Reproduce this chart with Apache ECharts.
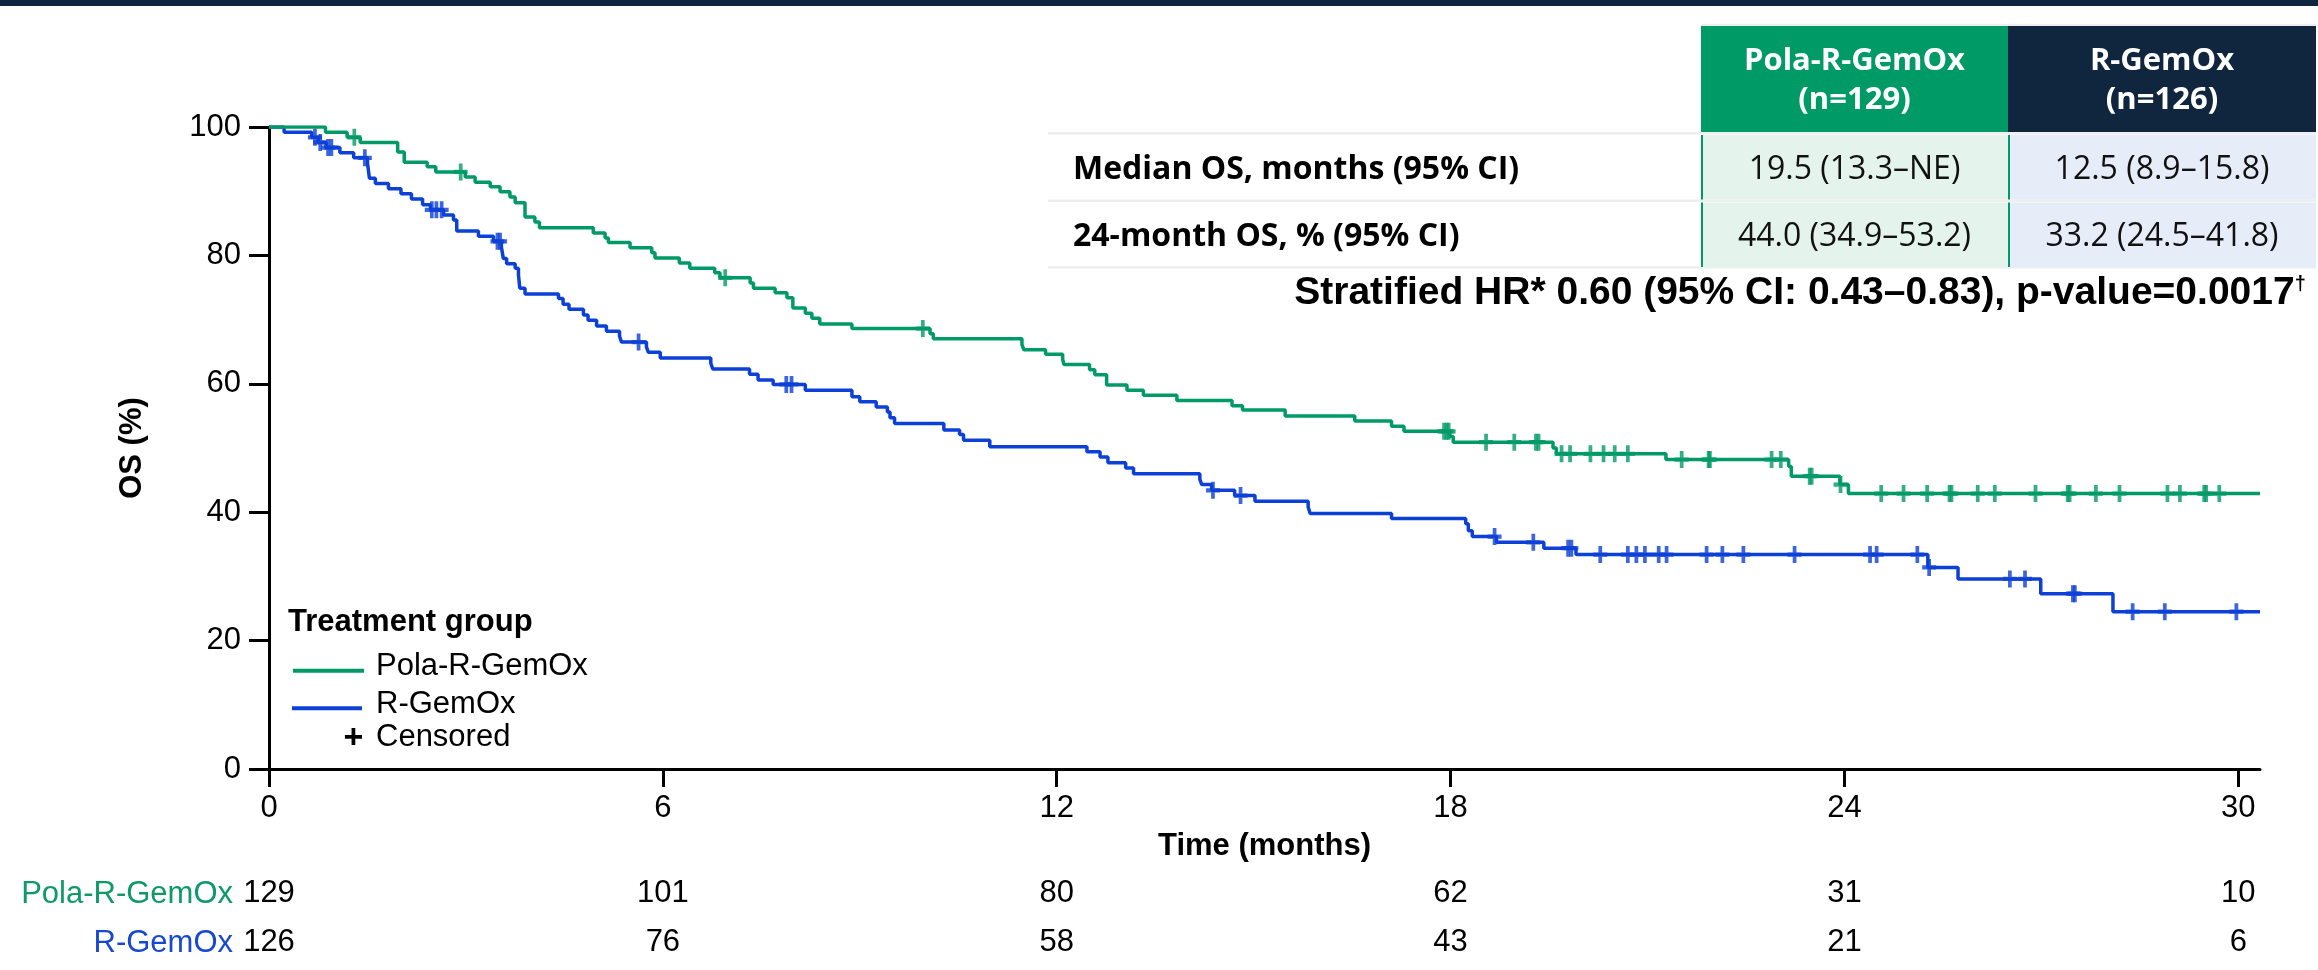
<!DOCTYPE html>
<html>
<head>
<meta charset="utf-8">
<script src="https://cdn.jsdelivr.net/npm/echarts@6.0.0/dist/echarts.min.js"></script>
<style>
  html, body { margin: 0; padding: 0; background: #fff; }
  #chart { width: 2318px; height: 970px; }
</style>
</head>
<body>
<div id="chart"></div>
<script>
// axis ticks and numbers at risk
const xTicks = [0, 6, 12, 18, 24, 30];
const atRiskPola = [129, 101, 80, 62, 31, 10];
const atRiskRGemOx = [126, 76, 58, 43, 21, 6];

// Pola-R-GemOx KM steps (time in months, OS %)
const polaTimes = [0, 0.86, 1.19, 1.39, 1.96, 2.06, 2.41, 2.54, 2.99, 3.14, 3.37, 3.52, 3.67, 3.75, 3.90, 4.05, 4.12,
  4.94, 5.12, 5.17, 5.50, 5.83, 5.88, 6.25, 6.41, 6.79, 6.87, 7.33, 7.38, 7.71, 7.89, 7.98, 8.17, 8.27, 8.39, 8.88,
  10.07, 10.12, 11.47, 11.50, 11.83, 12.09, 12.11, 12.50, 12.58, 12.76, 13.07, 13.32, 13.83, 14.67, 14.83, 15.48,
  16.54, 17.10, 17.29, 17.99, 18.04, 19.56, 19.61, 21.28, 23.15, 23.19, 23.93, 24.06, 30.33];
const polaSurv = [100, 99.2, 98.4, 97.6, 96.1, 94.5, 93.8, 93.0, 92.2, 91.4, 90.7, 89.9, 89.1, 88.2, 86.0, 85.2, 84.3,
  83.5, 82.7, 82.0, 81.2, 80.4, 79.6, 78.8, 78.0, 77.3, 76.5, 75.7, 74.9, 74.2, 73.4, 71.8, 71.0, 70.2, 69.3, 68.6,
  67.8, 67.0, 66.1, 65.3, 64.6, 63.8, 63.0, 62.2, 61.4, 59.8, 59.0, 58.2, 57.4, 56.6, 55.9, 55.0,
  54.2, 53.4, 52.6, 51.8, 50.9, 50.0, 49.1, 48.2, 47.1, 45.6, 44.3, 42.9, 42.9];
const polaCensored = [1.30, 2.92, 6.95, 9.96, 17.90, 17.94, 17.97, 18.54, 18.97, 19.30, 19.34, 19.69, 19.82, 20.13,
  20.33, 20.50, 20.70, 21.52, 21.93, 21.95, 22.89, 23.03, 23.47, 23.50, 23.94, 24.56, 24.90, 25.26, 25.60, 25.63,
  26.03, 26.29, 26.91, 27.40, 27.43, 27.83, 28.19, 28.92, 29.11, 29.48, 29.51, 29.71];

// R-GemOx KM steps
const rgoTimes = [0, 0.23, 0.65, 0.75, 0.87, 1.08, 1.29, 1.50, 1.53, 1.62, 1.82, 2.01, 2.17, 2.34, 2.46, 2.66, 2.81,
  2.86, 3.19, 3.42, 3.54, 3.57, 3.62, 3.75, 3.80, 3.82, 3.90, 4.41, 4.48, 4.57, 4.79, 4.86, 4.99, 5.14, 5.34, 5.37,
  5.75, 5.78, 5.96, 6.73, 6.76, 7.32, 7.45, 7.68, 8.17, 8.88, 9.00, 9.25, 9.42, 9.46, 9.53, 10.28, 10.52, 10.58,
  10.98, 12.46, 12.66, 12.78, 13.05, 13.17, 14.18, 14.21, 14.36, 14.71, 15.02, 15.83, 15.86, 17.10, 18.23, 18.27,
  18.33, 18.70, 19.42, 19.91, 25.27, 25.73, 26.99, 28.09, 30.33];
const rgoSurv = [100, 99.2, 98.4, 97.6, 96.8, 96.0, 95.2, 94.4, 92.0, 91.2, 90.4, 89.6, 88.8, 87.9, 87.1, 86.3, 85.5,
  83.8, 83.0, 82.2, 81.3, 79.5, 78.7, 78.0, 77.0, 74.9, 74.0, 73.3, 72.4, 71.6, 70.7, 69.9, 69.0, 68.2, 67.4, 66.5,
  65.7, 64.9, 64.0, 63.2, 62.3, 61.5, 60.6, 59.9, 59.0, 58.0, 57.2, 56.4, 55.6, 54.7, 53.8, 52.8, 52.1, 51.2,
  50.2, 49.4, 48.6, 47.7, 46.9, 46.0, 45.1, 44.3, 43.4, 42.6, 41.7, 40.8, 39.8, 39.0, 38.2, 37.1,
  36.2, 35.3, 34.4, 33.4, 31.4, 29.6, 27.3, 24.5, 24.5];
const rgoCensored = [0.70, 0.78, 0.90, 0.95, 1.46, 2.48, 2.55, 2.63, 3.48, 3.52, 5.63, 7.88, 7.96, 14.38, 14.80,
  18.67, 19.26, 19.79, 19.84, 20.28, 20.70, 20.83, 20.96, 21.17, 21.29, 21.90, 22.14, 22.46, 23.24, 24.39, 24.49,
  25.11, 25.29, 26.52, 26.75, 27.48, 27.51, 28.39, 28.88, 29.97];

// summary table
const tableGroups = ['Pola-R-GemOx', 'R-GemOx'];
const tableN = ['(n=129)', '(n=126)'];
const tableRows = ['Median OS, months (95% CI)', '24-month OS, % (95% CI)'];
const tableCells = [
  ['19.5 (13.3\u2013NE)', '12.5 (8.9\u201315.8)'],
  ['44.0 (34.9\u201353.2)', '33.2 (24.5\u201341.8)']
];
const hrText = 'Stratified HR* 0.60 (95% CI: 0.43\u20130.83), p-value=0.0017';

const GREEN = '#009a66';
const BLUE = '#0d40d6';
const NAVY = '#10263f';
const chartFont = '"Liberation Sans", Arial, sans-serif';
const tableFont = '"Open Sans", "Noto Sans", sans-serif';
const censorSymbol = 'path://M5.5,0H9.5V6H15V10H9.5V16H5.5V10H0V6H5.5Z';

function levelAt(times, surv, t) {
  let s = surv[0];
  for (let i = 0; i < times.length; i++) {
    if (times[i] <= t) s = surv[i];
  }
  return s;
}

function text(x, y, str, font, fill, align) {
  return {
    type: 'text', x: x, y: y, silent: true,
    style: {text: str, font: font, fill: fill, align: align || 'left', verticalAlign: 'middle'}
  };
}

function rect(x, y, w, h, fill) {
  return {type: 'rect', silent: true, shape: {x: x, y: y, width: w, height: h}, style: {fill: fill}};
}

function line(x1, y1, x2, y2, color, width) {
  return {type: 'line', silent: true, shape: {x1: x1, y1: y1, x2: x2, y2: y2}, style: {stroke: color, lineWidth: width}};
}

function buildTable() {
  const els = [];
  const colX = [1701, 2008];
  const colW = [307, 308];
  const cellFill = ['#e4f3eb', '#e6edf8'];
  const headFill = [GREEN, NAVY];
  const rowTop = [135, 202.5];
  const rowMid = [169.5, 237];
  // faint row rules
  [25, 133.3, 200.7, 267.3].forEach((y, i) => els.push(line(i === 0 ? 1701 : 1048, y, 2316, y, '#eeeeee', 2.5)));
  for (let c = 0; c < 2; c++) {
    els.push(rect(colX[c], 26, colW[c], 106, headFill[c]));
    els.push(text(colX[c] + colW[c] / 2, 61.5, tableGroups[c], 'bold 31px ' + tableFont, '#fff', 'center'));
    els.push(text(colX[c] + colW[c] / 2, 100, tableN[c], 'bold 31px ' + tableFont, '#fff', 'center'));
    for (let r = 0; r < 2; r++) {
      els.push(rect(colX[c], rowTop[r], colW[c], 64.5, cellFill[c]));
      els.push(text(colX[c] + colW[c] / 2, rowMid[r], tableCells[r][c], '32px ' + tableFont, '#111', 'center'));
    }
  }
  for (let r = 0; r < 2; r++) {
    els.push(line(1702, rowTop[r], 1702, rowTop[r] + 64.5, GREEN, 2));
    els.push(line(2009, rowTop[r], 2009, rowTop[r] + 64.5, GREEN, 2));
    els.push(text(1073, rowMid[r], tableRows[r], 'bold 32px ' + tableFont, '#000', 'left'));
  }
  els.push({
    type: 'text', x: 1800, y: 293.5, silent: true,
    style: {
      text: '{m|' + hrText + '}{d|\u2020}',
      align: 'center', verticalAlign: 'middle',
      rich: {
        m: {fontFamily: chartFont, fontWeight: 'bold', fontSize: 39, fill: '#000'},
        d: {fontFamily: chartFont, fontWeight: 'bold', fontSize: 20, fill: '#000', verticalAlign: 'top'}
      }
    }
  });
  return els;
}

function buildLegend() {
  const f = '31px ' + chartFont;
  return [
    text(288, 622.5, 'Treatment group', 'bold 31px ' + chartFont, '#000'),
    line(293, 670.7, 364, 670.7, GREEN, 4),
    text(376, 666, 'Pola-R-GemOx', f, '#000'),
    line(292, 708.3, 362, 708.3, BLUE, 4),
    text(376, 704.5, 'R-GemOx', f, '#000'),
    text(353.5, 739, '+', 'bold 34px ' + chartFont, '#000', 'center'),
    text(376, 737, 'Censored', f, '#000'),
    text(233, 894, 'Pola-R-GemOx', f, '#0e9a68', 'right'),
    text(233, 943, 'R-GemOx', f, '#1748d2', 'right')
  ];
}

function riskAxis(counts, margin) {
  return {
    type: 'value', min: 0, max: 30.33, position: 'bottom',
    axisLine: {show: false}, axisTick: {show: false}, splitLine: {show: false},
    axisLabel: {
      customValues: xTicks, margin: margin, fontSize: 31, fontFamily: chartFont, color: '#000',
      formatter: v => String(counts[xTicks.indexOf(v)])
    }
  };
}

function initChart() {
  const chart = echarts.init(document.getElementById('chart'));
  const axisLine = {lineStyle: {color: '#000', width: 3}};
  const option = {
    animation: false,
    backgroundColor: '#fff',
    grid: {left: 269, right: 58, top: 127, bottom: 201, containLabel: false},
    xAxis: [
      {
        type: 'value', min: 0, max: 30.33,
        name: 'Time (months)', nameLocation: 'middle', nameGap: 62,
        nameTextStyle: {fontSize: 31, fontWeight: 'bold', fontFamily: chartFont, color: '#000'},
        axisLine: axisLine,
        axisTick: {customValues: xTicks, length: 18, lineStyle: {color: '#000', width: 3}},
        axisLabel: {customValues: xTicks, margin: 24, fontSize: 31, fontFamily: chartFont, color: '#000'},
        splitLine: {show: false}
      },
      riskAxis(atRiskPola, 109),
      riskAxis(atRiskRGemOx, 158)
    ],
    yAxis: {
      type: 'value', min: 0, max: 100, interval: 20,
      name: 'OS (%)', nameLocation: 'middle', nameGap: 121, nameRotate: 90,
      nameTextStyle: {fontSize: 31, fontWeight: 'bold', fontFamily: chartFont, color: '#000'},
      axisLine: {show: true, lineStyle: {color: '#000', width: 3}},
      axisTick: {show: true, length: 20, lineStyle: {color: '#000', width: 3}},
      axisLabel: {margin: 28, fontSize: 31, fontFamily: chartFont, color: '#000'},
      splitLine: {show: false}
    },
    series: [
      {
        name: 'R-GemOx', type: 'line', step: 'end', symbol: 'none',
        lineStyle: {color: BLUE, width: 3.5},
        data: rgoTimes.map((t, i) => [t, rgoSurv[i]])
      },
      {
        name: 'R-GemOx censored', type: 'scatter', symbol: censorSymbol, symbolSize: [14, 17],
        symbolKeepAspect: false, itemStyle: {color: BLUE}, z: 3,
        data: rgoCensored.map(t => [t, levelAt(rgoTimes, rgoSurv, t)])
      },
      {
        name: 'Pola-R-GemOx', type: 'line', step: 'end', symbol: 'none',
        lineStyle: {color: GREEN, width: 3.5},
        data: polaTimes.map((t, i) => [t, polaSurv[i]])
      },
      {
        name: 'Pola-R-GemOx censored', type: 'scatter', symbol: censorSymbol, symbolSize: [14, 17],
        symbolKeepAspect: false, itemStyle: {color: GREEN}, z: 3,
        data: polaCensored.map(t => [t, levelAt(polaTimes, polaSurv, t)])
      }
    ],
    graphic: [
      rect(0, 0, 2318, 6, NAVY),
      ...buildTable(),
      ...buildLegend()
    ]
  };
  chart.setOption(option);
}

initChart();
</script>
</body>
</html>
